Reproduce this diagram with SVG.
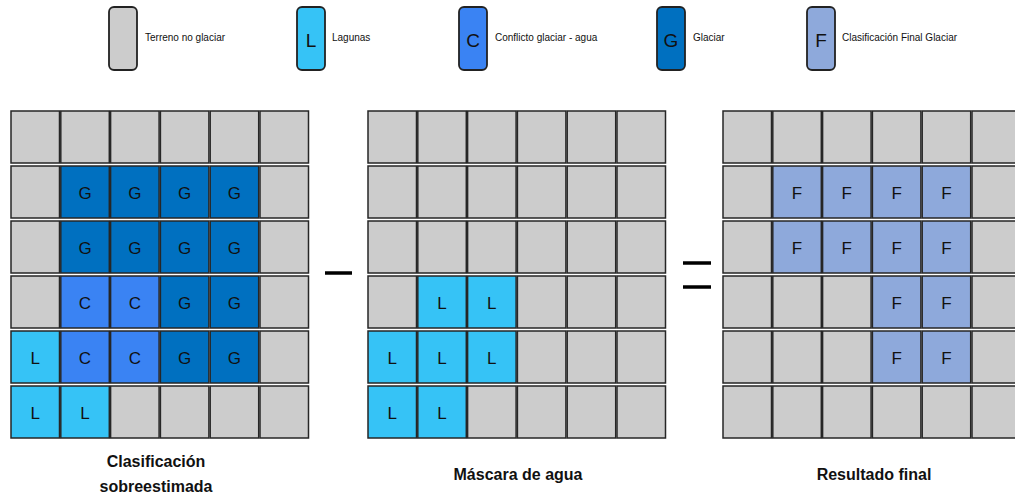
<svg xmlns="http://www.w3.org/2000/svg" width="1015" height="495" viewBox="0 0 1015 495">
<style>
.c{stroke:#262626;stroke-width:1.5}
.n{fill:#CCCCCC}.g{fill:#0070C0}.k{fill:#3A83F3}.l{fill:#36C3F6}.f{fill:#8EA9DB}
.lb{fill:none;stroke:#222;stroke-width:1.8}
.t{font-family:"Liberation Sans",Arial,sans-serif;font-size:17px;fill:#111;text-anchor:middle}
.lt{font-family:"Liberation Sans",Arial,sans-serif;font-size:10px;fill:#111}
.ll{font-family:"Liberation Sans",Arial,sans-serif;font-size:19px;fill:#111;text-anchor:middle}
.ti{font-family:"Liberation Sans",Arial,sans-serif;font-size:16px;font-weight:bold;fill:#111;text-anchor:middle}
.op{stroke:#000;stroke-width:3.5}
</style>
<defs>
<rect id="cell" width="48.5" height="52"/>
</defs>
<rect width="1015" height="495" fill="#fff"/>

<g id="legend-terreno">
<rect x="109" y="7" width="28" height="63" rx="5" class="n"/><rect x="109" y="7" width="28" height="63" rx="5" class="lb"/>
<text x="145" y="41" class="lt">Terreno no glaciar</text>
</g>
<g id="legend-lagunas">
<rect x="297" y="7" width="28" height="63" rx="5" class="l"/><rect x="297" y="7" width="28" height="63" rx="5" class="lb"/>
<text x="311" y="46.5" class="ll">L</text>
<text x="332" y="41" class="lt">Lagunas</text>
</g>
<g id="legend-conflicto">
<rect x="459" y="7" width="28" height="63" rx="5" class="k"/><rect x="459" y="7" width="28" height="63" rx="5" class="lb"/>
<text x="473" y="46.5" class="ll">C</text>
<text x="495" y="41" class="lt">Conflicto glaciar - agua</text>
</g>
<g id="legend-glaciar">
<rect x="657" y="7" width="28" height="63" rx="5" class="g"/><rect x="657" y="7" width="28" height="63" rx="5" class="lb"/>
<text x="671" y="46.5" class="ll">G</text>
<text x="693" y="41" class="lt">Glaciar</text>
</g>
<g id="legend-final">
<rect x="807" y="7" width="28" height="63" rx="5" class="f"/><rect x="807" y="7" width="28" height="63" rx="5" class="lb"/>
<text x="821" y="46.5" class="ll">F</text>
<text x="842" y="41" class="lt">Clasificación Final Glaciar</text>
</g>

<g id="grid-clasificacion">
<use href="#cell" x="11" y="111" class="c n"/><use href="#cell" x="60.8" y="111" class="c n"/><use href="#cell" x="110.6" y="111" class="c n"/><use href="#cell" x="160.4" y="111" class="c n"/><use href="#cell" x="210.2" y="111" class="c n"/><use href="#cell" x="260" y="111" class="c n"/>
<use href="#cell" x="11" y="166" class="c n"/><use href="#cell" x="60.8" y="166" class="c g"/><use href="#cell" x="110.6" y="166" class="c g"/><use href="#cell" x="160.4" y="166" class="c g"/><use href="#cell" x="210.2" y="166" class="c g"/><use href="#cell" x="260" y="166" class="c n"/>
<use href="#cell" x="11" y="221" class="c n"/><use href="#cell" x="60.8" y="221" class="c g"/><use href="#cell" x="110.6" y="221" class="c g"/><use href="#cell" x="160.4" y="221" class="c g"/><use href="#cell" x="210.2" y="221" class="c g"/><use href="#cell" x="260" y="221" class="c n"/>
<use href="#cell" x="11" y="276" class="c n"/><use href="#cell" x="60.8" y="276" class="c k"/><use href="#cell" x="110.6" y="276" class="c k"/><use href="#cell" x="160.4" y="276" class="c g"/><use href="#cell" x="210.2" y="276" class="c g"/><use href="#cell" x="260" y="276" class="c n"/>
<use href="#cell" x="11" y="331" class="c l"/><use href="#cell" x="60.8" y="331" class="c k"/><use href="#cell" x="110.6" y="331" class="c k"/><use href="#cell" x="160.4" y="331" class="c g"/><use href="#cell" x="210.2" y="331" class="c g"/><use href="#cell" x="260" y="331" class="c n"/>
<use href="#cell" x="11" y="386" class="c l"/><use href="#cell" x="60.8" y="386" class="c l"/><use href="#cell" x="110.6" y="386" class="c n"/><use href="#cell" x="160.4" y="386" class="c n"/><use href="#cell" x="210.2" y="386" class="c n"/><use href="#cell" x="260" y="386" class="c n"/>
<text x="85" y="199" class="t">G</text><text x="134.8" y="199" class="t">G</text><text x="184.6" y="199" class="t">G</text><text x="234.4" y="199" class="t">G</text>
<text x="85" y="254" class="t">G</text><text x="134.8" y="254" class="t">G</text><text x="184.6" y="254" class="t">G</text><text x="234.4" y="254" class="t">G</text>
<text x="85" y="309" class="t">C</text><text x="134.8" y="309" class="t">C</text><text x="184.6" y="309" class="t">G</text><text x="234.4" y="309" class="t">G</text>
<text x="35.2" y="364" class="t">L</text><text x="85" y="364" class="t">C</text><text x="134.8" y="364" class="t">C</text><text x="184.6" y="364" class="t">G</text><text x="234.4" y="364" class="t">G</text>
<text x="35.2" y="419" class="t">L</text><text x="85" y="419" class="t">L</text>
<text x="156" y="467" class="ti">Clasificación</text>
<text x="156" y="492" class="ti">sobreestimada</text>
</g>

<g id="grid-mascara">
<use href="#cell" x="368" y="111" class="c n"/><use href="#cell" x="417.8" y="111" class="c n"/><use href="#cell" x="467.6" y="111" class="c n"/><use href="#cell" x="517.4" y="111" class="c n"/><use href="#cell" x="567.2" y="111" class="c n"/><use href="#cell" x="617" y="111" class="c n"/>
<use href="#cell" x="368" y="166" class="c n"/><use href="#cell" x="417.8" y="166" class="c n"/><use href="#cell" x="467.6" y="166" class="c n"/><use href="#cell" x="517.4" y="166" class="c n"/><use href="#cell" x="567.2" y="166" class="c n"/><use href="#cell" x="617" y="166" class="c n"/>
<use href="#cell" x="368" y="221" class="c n"/><use href="#cell" x="417.8" y="221" class="c n"/><use href="#cell" x="467.6" y="221" class="c n"/><use href="#cell" x="517.4" y="221" class="c n"/><use href="#cell" x="567.2" y="221" class="c n"/><use href="#cell" x="617" y="221" class="c n"/>
<use href="#cell" x="368" y="276" class="c n"/><use href="#cell" x="417.8" y="276" class="c l"/><use href="#cell" x="467.6" y="276" class="c l"/><use href="#cell" x="517.4" y="276" class="c n"/><use href="#cell" x="567.2" y="276" class="c n"/><use href="#cell" x="617" y="276" class="c n"/>
<use href="#cell" x="368" y="331" class="c l"/><use href="#cell" x="417.8" y="331" class="c l"/><use href="#cell" x="467.6" y="331" class="c l"/><use href="#cell" x="517.4" y="331" class="c n"/><use href="#cell" x="567.2" y="331" class="c n"/><use href="#cell" x="617" y="331" class="c n"/>
<use href="#cell" x="368" y="386" class="c l"/><use href="#cell" x="417.8" y="386" class="c l"/><use href="#cell" x="467.6" y="386" class="c n"/><use href="#cell" x="517.4" y="386" class="c n"/><use href="#cell" x="567.2" y="386" class="c n"/><use href="#cell" x="617" y="386" class="c n"/>
<text x="442" y="309" class="t">L</text><text x="491.8" y="309" class="t">L</text>
<text x="392.2" y="364" class="t">L</text><text x="442" y="364" class="t">L</text><text x="491.8" y="364" class="t">L</text>
<text x="392.2" y="419" class="t">L</text><text x="442" y="419" class="t">L</text>
<text x="518" y="480" class="ti">Máscara de agua</text>
</g>

<g id="grid-resultado">
<use href="#cell" x="723" y="111" class="c n"/><use href="#cell" x="772.8" y="111" class="c n"/><use href="#cell" x="822.6" y="111" class="c n"/><use href="#cell" x="872.4" y="111" class="c n"/><use href="#cell" x="922.2" y="111" class="c n"/><use href="#cell" x="972" y="111" class="c n"/>
<use href="#cell" x="723" y="166" class="c n"/><use href="#cell" x="772.8" y="166" class="c f"/><use href="#cell" x="822.6" y="166" class="c f"/><use href="#cell" x="872.4" y="166" class="c f"/><use href="#cell" x="922.2" y="166" class="c f"/><use href="#cell" x="972" y="166" class="c n"/>
<use href="#cell" x="723" y="221" class="c n"/><use href="#cell" x="772.8" y="221" class="c f"/><use href="#cell" x="822.6" y="221" class="c f"/><use href="#cell" x="872.4" y="221" class="c f"/><use href="#cell" x="922.2" y="221" class="c f"/><use href="#cell" x="972" y="221" class="c n"/>
<use href="#cell" x="723" y="276" class="c n"/><use href="#cell" x="772.8" y="276" class="c n"/><use href="#cell" x="822.6" y="276" class="c n"/><use href="#cell" x="872.4" y="276" class="c f"/><use href="#cell" x="922.2" y="276" class="c f"/><use href="#cell" x="972" y="276" class="c n"/>
<use href="#cell" x="723" y="331" class="c n"/><use href="#cell" x="772.8" y="331" class="c n"/><use href="#cell" x="822.6" y="331" class="c n"/><use href="#cell" x="872.4" y="331" class="c f"/><use href="#cell" x="922.2" y="331" class="c f"/><use href="#cell" x="972" y="331" class="c n"/>
<use href="#cell" x="723" y="386" class="c n"/><use href="#cell" x="772.8" y="386" class="c n"/><use href="#cell" x="822.6" y="386" class="c n"/><use href="#cell" x="872.4" y="386" class="c n"/><use href="#cell" x="922.2" y="386" class="c n"/><use href="#cell" x="972" y="386" class="c n"/>
<text x="797" y="199" class="t">F</text><text x="846.8" y="199" class="t">F</text><text x="896.6" y="199" class="t">F</text><text x="946.4" y="199" class="t">F</text>
<text x="797" y="254" class="t">F</text><text x="846.8" y="254" class="t">F</text><text x="896.6" y="254" class="t">F</text><text x="946.4" y="254" class="t">F</text>
<text x="896.6" y="309" class="t">F</text><text x="946.4" y="309" class="t">F</text>
<text x="896.6" y="364" class="t">F</text><text x="946.4" y="364" class="t">F</text>
<text x="874" y="480" class="ti">Resultado final</text>
</g>

<g id="connectors">
<line x1="325" y1="273" x2="352" y2="273" class="op"/>
<line x1="683" y1="263" x2="711" y2="263" class="op"/>
<line x1="683" y1="287" x2="711" y2="287" class="op"/>
</g>
</svg>
